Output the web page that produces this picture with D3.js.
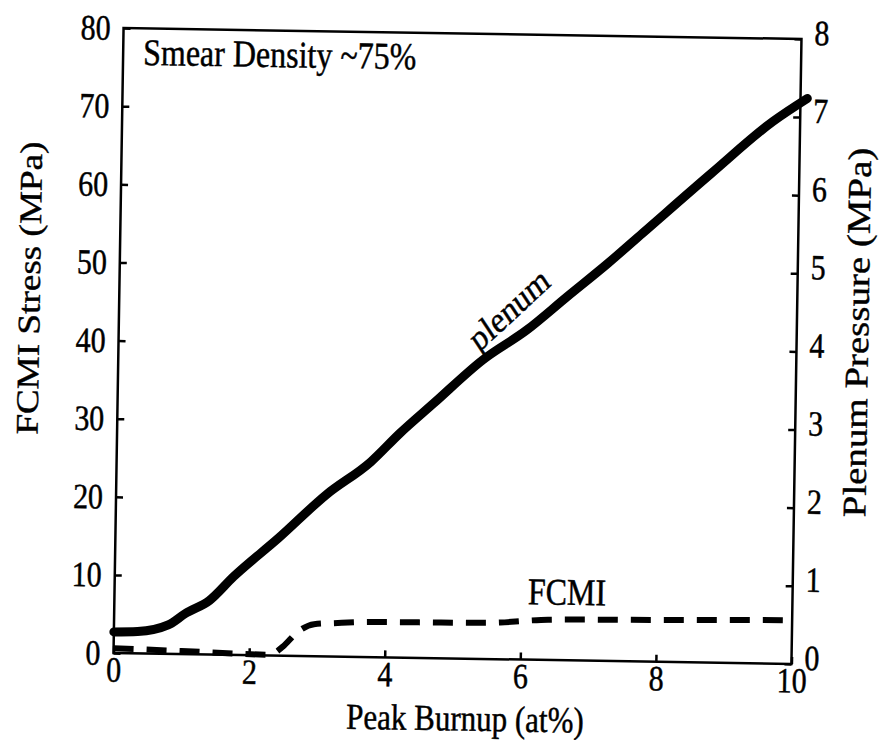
<!DOCTYPE html>
<html>
<head>
<meta charset="utf-8">
<script src="https://cdn.jsdelivr.net/npm/d3@7"></script>
<style>
  body { margin: 0; background: #fff; }
  svg { display: block; }
</style>
</head>
<body>
<svg id="chart" width="887" height="740"></svg>
<script>
// burnup (at%)
const plenumX = [0, 0.35, 0.8, 1.05, 1.4, 1.75, 2.4, 3.1, 3.75, 4.17, 4.66, 5.38, 6.02, 6.6, 7.2, 7.7, 8.7, 9.6, 10.1];
// plenum pressure, MPa (right axis)
const plenumY = [0.27, 0.28, 0.37, 0.52, 0.69, 1.0, 1.5, 2.07, 2.5, 2.87, 3.26, 3.83, 4.22, 4.65, 5.09, 5.48, 6.26, 6.94, 7.24];

const fcmiX = [0, 1.0, 2.3, 2.5, 2.7, 2.95, 3.3, 3.8, 4.5, 5.3, 5.7, 6.1, 6.4, 8.0, 10.0];
// FCMI stress, MPa (left axis)
const fcmiY = [0.6, 0.4, 0.1, 1.2, 3.0, 4.1, 4.3, 4.5, 4.55, 4.6, 4.7, 5.0, 5.15, 5.35, 5.6];

const xTicks = [0, 2, 4, 6, 8, 10];
const leftTicks = [0, 10, 20, 30, 40, 50, 60, 70, 80];
const rightTicks = [0, 1, 2, 3, 4, 5, 6, 7, 8];

const serif = "'Liberation Serif', Tinos, 'Times New Roman', serif";

const svg = d3.select("#chart").attr("font-family", serif);
const stretch = 1.18; // scan is a bit taller than wide

// frame box
const boxL = 118.5, boxR = 796.5, boxT = 33.5, boxB = 658.5;

const x = d3.scaleLinear().domain([0, 10]).range([boxL, boxR]);
const yL = d3.scaleLinear().domain([0, 80]).range([boxB, boxT]);
const yR = d3.scaleLinear().domain([0, 8]).range([boxB, boxT]);

// whole scan sits slightly tilted
const g = svg.append("g").attr("transform", "rotate(0.92,457.5,346)");

g.append("rect")
  .attr("x", boxL).attr("y", boxT)
  .attr("width", boxR - boxL).attr("height", boxB - boxT)
  .attr("fill", "none").attr("stroke", "#000").attr("stroke-width", 2.5);

function styleAxis(sel) {
  sel.attr("font-family", serif);
  sel.select(".domain").remove();
  sel.selectAll(".tick line").attr("stroke", "#000").attr("stroke-width", 2.5);
  sel.selectAll(".tick text")
    .attr("font-size", 30)
    .attr("font-family", serif)
    .attr("fill", "#000")
    .attr("stroke", "#000").attr("stroke-width", 0.4)
    .attr("transform", `scale(1,${stretch})`);
}

g.append("g")
  .attr("transform", `translate(0,${boxB})`)
  .call(d3.axisBottom(x).tickValues(xTicks).tickSize(-7).tickSizeOuter(0).tickPadding(3))
  .call(styleAxis);

g.append("g")
  .attr("transform", `translate(${boxL},0)`)
  .call(d3.axisLeft(yL).tickValues(leftTicks).tickSize(-7).tickSizeOuter(0).tickPadding(13))
  .call(styleAxis);

g.append("g")
  .attr("transform", `translate(${boxR},0)`)
  .call(d3.axisRight(yR).tickValues(rightTicks).tickSize(-7).tickSizeOuter(0).tickPadding(13))
  .call(styleAxis)
  .selectAll(".tick text").attr("dy", "0.15em");

// lines
const plenumLine = d3.line()
  .x((d, i) => x(plenumX[i]))
  .y(d => yR(d))
  .curve(d3.curveMonotoneX);

g.append("path")
  .attr("d", plenumLine(plenumY))
  .attr("fill", "none").attr("stroke", "#000")
  .attr("stroke-width", 9).attr("stroke-linecap", "round").attr("stroke-linejoin", "round");

const fcmiLine = d3.line()
  .x((d, i) => x(fcmiX[i]))
  .y(d => yL(d))
  .curve(d3.curveMonotoneX);

g.append("path")
  .attr("d", fcmiLine(fcmiY))
  .attr("fill", "none").attr("stroke", "#000")
  .attr("stroke-width", 6).attr("stroke-dasharray", "20,13");

// text helper: stretched vertically like the scan
function label(str, px, py, size, anchor, rot) {
  g.append("text")
    .attr("transform", `translate(${px},${py}) scale(1,${stretch})` + (rot ? ` rotate(${rot})` : ""))
    .attr("text-anchor", anchor)
    .attr("font-family", serif)
    .attr("font-size", size)
    .attr("fill", "#000")
    .attr("stroke", "#000").attr("stroke-width", 0.4)
    .text(str);
}

label("Smear Density ~75%", 138.5, 70, 32, "start");
label("Peak Burnup (at%)", 471, 730.5, 31, "middle");
label("FCMI Stress (MPa)", 39, 295, 31.5, "middle", -90);
label("Plenum Pressure (MPa)", 868, 326, 33, "middle", -90);
label("FCMI", 571, 603, 32, "middle");
label("plenum", 515, 318, 31, "middle", -39);
</script>
</body>
</html>
